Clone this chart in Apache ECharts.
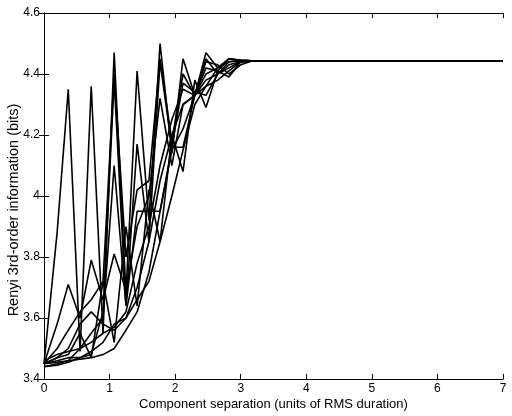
<!DOCTYPE html>
<html><head><meta charset="utf-8">
<script src="https://cdn.jsdelivr.net/npm/echarts@6/dist/echarts.min.js"></script>
<style>html,body{margin:0;padding:0;background:#fff}#c{width:512px;height:416px}</style>
</head><body><div id="c"></div>
<script>
const xs = [0, 0.2, 0.37, 0.55, 0.72, 0.9, 1.07, 1.25, 1.42, 1.6, 1.77, 1.95, 2.12, 2.3, 2.47, 2.65, 2.82, 3.0, 3.17, 3.35, 3.52, 7];
const s1 = [3.45, 3.88, 4.35, 3.49, 4.36, 3.55, 4.47, 3.68, 4.41, 3.92, 4.50, 4.14, 4.45, 4.33, 4.47, 4.42, 4.45, 4.445, 4.443, 4.443, 4.443, 4.443];
const s2 = [3.45, 3.46, 3.47, 3.47, 3.48, 3.62, 4.38, 3.64, 4.17, 3.85, 4.44, 4.16, 4.37, 4.34, 4.33, 4.40, 4.43, 4.44, 4.443, 4.443, 4.443, 4.443];
const s3 = [3.44, 3.45, 3.46, 3.50, 3.55, 3.60, 4.10, 3.64, 3.95, 3.95, 3.95, 4.16, 4.16, 4.33, 4.44, 4.43, 4.40, 4.43, 4.443, 4.443, 4.443, 4.443];
const s4 = [3.45, 3.47, 3.48, 3.55, 3.47, 3.72, 3.52, 3.90, 3.64, 4.02, 3.85, 4.20, 4.08, 4.38, 4.29, 4.41, 4.39, 4.44, 4.443, 4.443, 4.443, 4.443];
const s5 = [3.45, 3.58, 3.71, 3.60, 3.79, 3.66, 3.81, 3.69, 3.90, 4.00, 4.32, 4.10, 4.30, 4.33, 4.36, 4.42, 4.45, 4.445, 4.443, 4.443, 4.443, 4.443];
const s6 = [3.45, 3.455, 3.46, 3.465, 3.47, 3.48, 3.50, 3.56, 3.62, 3.75, 3.95, 4.15, 4.22, 4.33, 4.40, 4.42, 4.44, 4.443, 4.443, 4.443, 4.443, 4.443];
const s7 = [3.44, 3.445, 3.455, 3.47, 3.49, 3.52, 3.58, 3.60, 3.70, 3.85, 4.05, 4.20, 4.30, 4.33, 4.38, 4.40, 4.42, 4.44, 4.443, 4.443, 4.443, 4.443];
const s8 = [3.46, 3.48, 3.49, 3.50, 3.52, 3.55, 3.57, 3.62, 3.78, 3.90, 4.10, 4.25, 4.35, 4.33, 4.42, 4.41, 4.45, 4.445, 4.443, 4.443, 4.443, 4.443];
const s9 = [3.45, 3.50, 3.56, 3.62, 3.66, 3.72, 4.40, 3.80, 4.02, 4.05, 4.45, 4.18, 4.40, 4.33, 4.45, 4.40, 4.44, 4.445, 4.443, 4.443, 4.443, 4.443];
const s10 = [3.45, 3.47, 3.50, 3.58, 3.62, 3.58, 3.56, 3.60, 3.66, 3.72, 3.85, 4.00, 4.15, 4.30, 4.36, 4.38, 4.41, 4.44, 4.443, 4.443, 4.443, 4.443];
const allSeries = [s1, s2, s3, s4, s5, s6, s7, s8, s9, s10];
const xTicks = [0, 1, 2, 3, 4, 5, 6, 7];
const yTicks = [3.4, 3.6, 3.8, 4.0, 4.2, 4.4, 4.6];

const font = 'Liberation Sans, Arial, Helvetica, sans-serif';
const chart = echarts.init(document.getElementById('c'), null, {renderer: 'canvas'});
const axisCommon = {
  axisLine: {show: true, lineStyle: {color: '#000', width: 1}},
  axisTick: {show: true, inside: true, length: 5, lineStyle: {color: '#000'}},
  splitLine: {show: false}
};
const yFmt = v => { const r = Math.round(v * 10) / 10; return Number.isInteger(r) ? String(r) : r.toFixed(1); };
chart.setOption({
  animation: false,
  backgroundColor: '#fff',
  grid: {left: 44, right: 9, top: 13, bottom: 37, containLabel: false, outerBoundsMode: 'none'},
  xAxis: [
    Object.assign({type: 'value', min: xTicks[0], max: xTicks[xTicks.length-1], interval: 1, position: 'bottom',
      name: 'Component separation (units of RMS duration)', nameLocation: 'middle', nameGap: 19, nameMoveOverlap: false,
      nameTextStyle: {color: '#000', fontSize: 13, fontFamily: font},
      axisLabel: {color: '#000', fontSize: 12, fontFamily: font, margin: 4}}, axisCommon),
    Object.assign({type: 'value', min: 0, max: 7, interval: 1, position: 'top', axisLabel: {show: false}}, axisCommon)
  ],
  yAxis: [
    Object.assign({type: 'value', min: yTicks[0], max: yTicks[yTicks.length-1], interval: 0.2, position: 'left',
      name: 'Renyi 3rd-order information (bits)', nameLocation: 'middle', nameGap: 30, nameRotate: 90, nameMoveOverlap: false,
      nameTextStyle: {color: '#000', fontSize: 14.5, fontFamily: font, verticalAlign: 'middle', padding: [0, 28, 0, 0]},
      axisLabel: {color: '#000', fontSize: 12, fontFamily: font, margin: 4, formatter: yFmt}}, axisCommon),
    Object.assign({type: 'value', min: 3.4, max: 4.6, interval: 0.2, position: 'right', axisLabel: {show: false}}, axisCommon)
  ],
  series: allSeries.map(arr => ({
    type: 'line', xAxisIndex: 0, yAxisIndex: 0, symbol: 'none', silent: true,
    lineStyle: {color: '#000', width: 1.6},
    data: xs.map((x, i) => [x, arr[i]])
  }))
});
</script></body></html>
